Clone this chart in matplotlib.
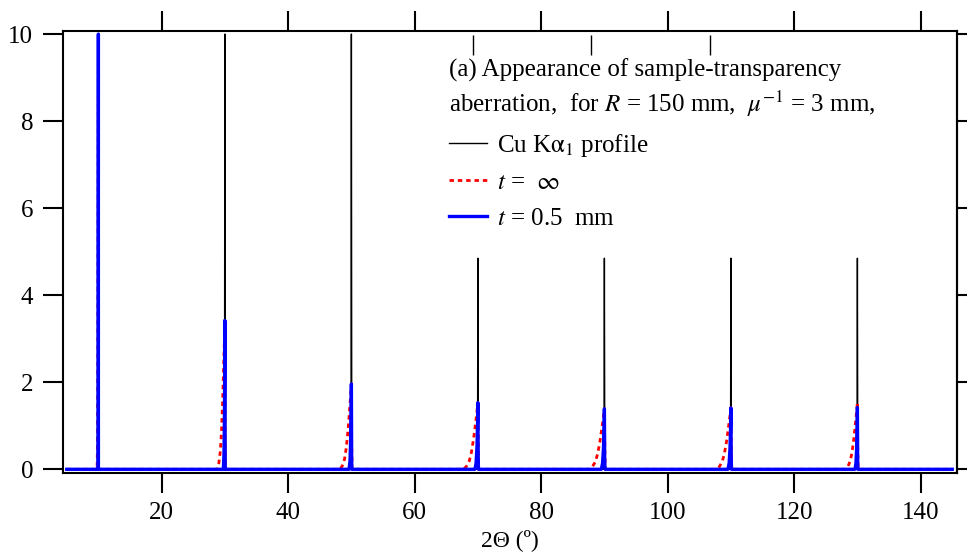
import numpy as np
import matplotlib
matplotlib.use('Agg')
import matplotlib.pyplot as plt

plt.rcParams['font.family'] = ['Liberation Serif', 'DejaVu Serif']
plt.rcParams['mathtext.fontset'] = 'stix'

# peak positions (2theta, deg) and heights
peak_pos = [10, 30, 50, 70, 90, 110, 130]
cu_height = [10.0, 10.0, 10.0, 4.85, 4.85, 4.85, 4.85]
inf_height = [10.0, 3.42, 1.96, 1.53, 1.39, 1.42, 1.54]
thin_height = [10.0, 3.42, 1.96, 1.53, 1.39, 1.41, 1.42]
tail_width = [0.2, 1.2, 1.8, 2.3, 2.4, 2.3, 1.9]

# peak shapes: offset (in units of tail width, or deg for Cu) and fraction of height
cu_off = [-0.15, -0.05, 0.0, 0.05, 0.15]
cu_frac = [0.0, 0.2, 1.0, 0.2, 0.0]
inf_off = [-1.0, -0.8, -0.6, -0.45, -0.3, -0.2, -0.1, 0.0, 0.03, 0.06]
inf_frac = [0.0, 0.04, 0.12, 0.25, 0.45, 0.62, 0.8, 1.0, 0.3, 0.0]
thin_off = [-0.2, -0.12, -0.06, -0.02, 0.0, 0.02, 0.04]
thin_frac = [0.0, 0.1, 0.35, 0.7, 1.0, 0.2, 0.0]

x_start, x_end = 5.0, 145.0
top_marks = [69.2, 87.9, 106.7]


def build(heights, offs, fracs, widths=None):
    xs = [x_start]
    ys = [0.0]
    for i, c in enumerate(peak_pos):
        w = 1.0 if widths is None else widths[i]
        for o, f in zip(offs, fracs):
            xs.append(c + o * w)
            ys.append(f * heights[i])
    xs.append(x_end)
    ys.append(0.0)
    return np.array(xs), np.array(ys)


def main():
    fig = plt.figure(figsize=(9.67, 5.58), dpi=100)
    ax = fig.add_axes([0.0651, 0.1529, 0.9249, 0.7915])

    x_cu, y_cu = build(cu_height, cu_off, cu_frac)
    x_inf, y_inf = build(inf_height, inf_off, inf_frac, tail_width)
    x_thin, y_thin = build(thin_height, thin_off, thin_frac, tail_width)

    ax.plot(x_cu, y_cu, color='black', linewidth=1.0, label=r'Cu K$\mathrm{\alpha}_1$ profile')
    ax.plot(x_inf, y_inf, color='red', linewidth=2.0, linestyle=(0, (1.6, 1.4)),
            label=r'$t$ =  $\infty$')
    ax.plot(x_thin, y_thin, color='blue', linewidth=2.4, label=r'$t$ = 0.5  mm')

    ax.set_xlim(4.4, 145.8)
    ax.set_ylim(-0.078, 10.07)
    ax.set_xticks(np.arange(20, 141, 20))
    ax.set_yticks(np.arange(0, 11, 2))

    for side in ['left', 'right', 'top', 'bottom']:
        ax.spines[side].set_linewidth(1.5)
    ax.tick_params(axis='both', which='major', direction='out', length=14.4, width=1.5,
                   labelsize=18, top=True, right=False)
    ax.tick_params(axis='x', pad=7)
    ax.tick_params(axis='y', pad=7)

    # short outward ticks on right side
    ax_r = ax.secondary_yaxis('right')
    ax_r.set_yticks(np.arange(0, 11, 2))
    ax_r.tick_params(direction='out', length=7, width=1.5, labelright=False)
    ax_r.spines['right'].set_linewidth(1.5)

    # small inward marks hanging from top
    ax.vlines(top_marks, 0.946, 0.991, transform=ax.get_xaxis_transform(),
              color='black', linewidth=1.0)

    ax.set_xlabel('2\u0398 (\u00ba)', fontsize=17, labelpad=3)

    leg = ax.legend(loc='upper left', bbox_to_anchor=(0.432, 0.937), frameon=False,
                    fontsize=18, handlelength=1.5, handletextpad=0.4, labelspacing=0.52,
                    borderpad=0, borderaxespad=0, alignment='left',
                    title='(a) Appearance of sample-transparency\n'
                          r'aberration,  for $R$ = 150 mm,  $\mu^{-1}$ = 3 mm,',
                    title_fontsize=18)
    leg.get_title().set_linespacing(1.25)

    fig.savefig('out.png', dpi=100)
    plt.close(fig)


if __name__ == '__main__':
    main()
